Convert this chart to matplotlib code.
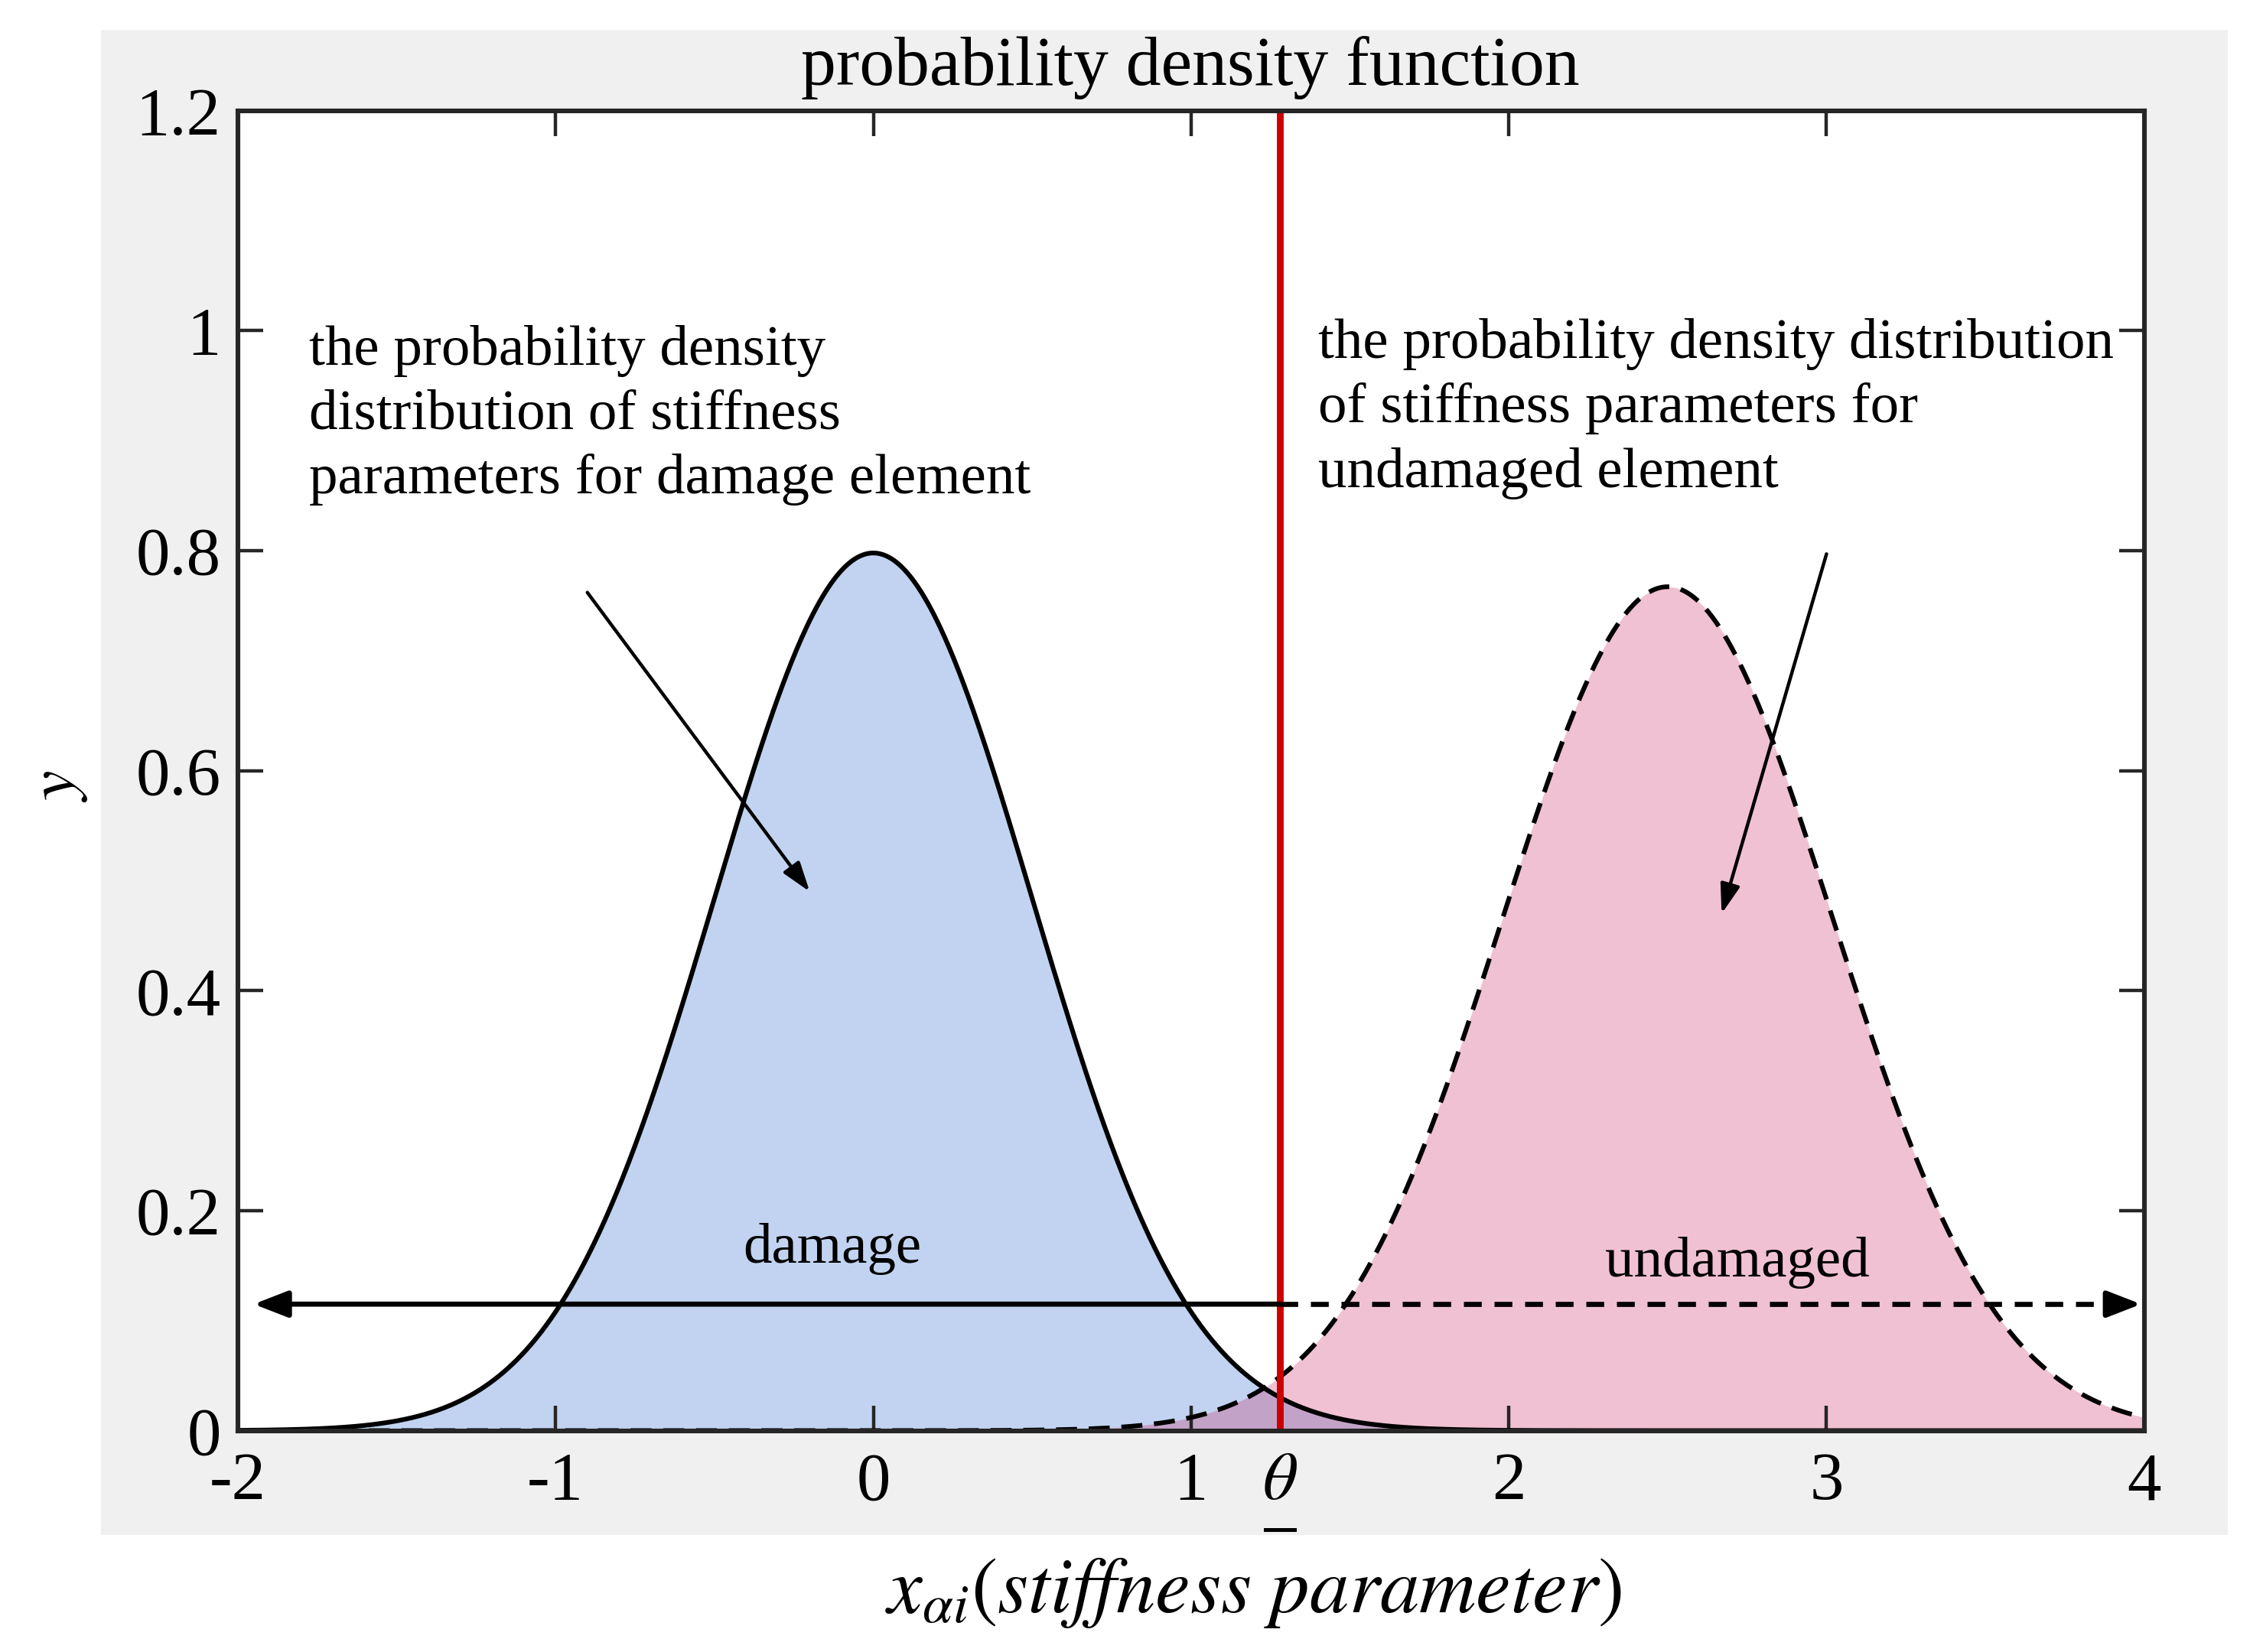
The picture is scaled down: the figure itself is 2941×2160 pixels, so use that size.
import matplotlib
matplotlib.use("Agg")
import matplotlib.pyplot as plt
import matplotlib.transforms as mtransforms
from matplotlib.patches import Rectangle
import numpy as np

# parameters
damage_mean, damage_sigma = 0.0, 0.5        # peak ~0.80 at x=0
undamaged_mean, undamaged_sigma = 2.5, 0.52  # peak ~0.77 at x=2.5
theta = 1.28                                 # threshold (red line)
arrow_y = 0.115                              # height of the horizontal arrows

x_ticks = [-2, -1, 0, 1, theta, 2, 3, 4]
x_tick_labels = ["-2", "-1", "0", "1", r"$\theta$", "2", "3", "4"]
y_ticks = [0, 0.2, 0.4, 0.6, 0.8, 1.0, 1.2]
y_tick_labels = ["0", "0.2", "0.4", "0.6", "0.8", "1", "1.2"]

left_note = ("the probability density\n"
             "distribution of stiffness\n"
             "parameters for damage element")
right_note = ("the probability density distribution\n"
              "of stiffness parameters for\n"
              "undamaged element")

plt.rcParams["font.family"] = ["Liberation Serif", "DejaVu Serif"]
plt.rcParams["mathtext.fontset"] = "stix"


def normal_pdf(x, mu, sigma):
    return np.exp(-0.5 * ((x - mu) / sigma) ** 2) / (sigma * np.sqrt(2 * np.pi))


x = np.linspace(-2, 4, 1201)
y_dmg = normal_pdf(x, damage_mean, damage_sigma)
y_und = normal_pdf(x, undamaged_mean, undamaged_sigma)

fig = plt.figure(figsize=(14.705, 10.8), dpi=200, facecolor="white")
fig.patches.append(Rectangle((0.045, 0.071), 0.945, 0.911, transform=fig.transFigure,
                             facecolor="#f0f0f0", edgecolor="none", zorder=-10))
ax = fig.add_axes([0.1057, 0.134, 0.8473, 0.799])
ax.set_facecolor("white")

# filled areas
ax.fill_between(x, 0, y_dmg, color="#c1d3f0", lw=0, zorder=1)
ax.fill_between(x, 0, y_und, color="#f0c1d2", lw=0, zorder=1)
ax.fill_between(x, 0, np.minimum(y_dmg, y_und), color="#c3a2c8", lw=0, zorder=1.5)

# curves
ax.plot(x, y_dmg, color="black", lw=2.2, zorder=3)
ax.plot(x, y_und, color="black", lw=2.2, ls=(0, (4.5, 2.5)), zorder=3)

# threshold line
ax.axvline(theta, color="#cc0000", lw=3.2, zorder=4)

# horizontal arrows
head = "-|>,head_length=0.9,head_width=0.35"
ax.annotate("", xy=(-1.95, arrow_y), xytext=(theta, arrow_y),
            arrowprops=dict(arrowstyle=head, color="black", lw=2.4,
                            mutation_scale=15, shrinkA=0, shrinkB=0), zorder=5)
ax.plot([theta, 3.95], [arrow_y, arrow_y], color="black", lw=2.4,
        ls=(0, (3.5, 2.5)), zorder=5)
ax.annotate("", xy=(3.99, arrow_y), xytext=(3.94, arrow_y),
            arrowprops=dict(arrowstyle=head, color="black", lw=2.4,
                            mutation_scale=15, shrinkA=0, shrinkB=0), zorder=5)
ax.text(-0.13, 0.165, "damage", ha="center", va="center", fontsize=27, zorder=6)
ax.text(2.72, 0.153, "undamaged", ha="center", va="center", fontsize=27, zorder=6)

# annotations with diagonal arrows
ax.text(-1.775, 0.923, left_note, ha="left", va="center", fontsize=27,
        linespacing=1.32, zorder=6)
ax.text(1.40, 0.929, right_note, ha="left", va="center", fontsize=27,
        linespacing=1.32, zorder=6)
thin_head = "-|>,head_length=0.9,head_width=0.3"
ax.annotate("", xy=(-0.2, 0.49), xytext=(-0.9, 0.762),
            arrowprops=dict(arrowstyle=thin_head, color="black", lw=1.6,
                            mutation_scale=13, shrinkA=0, shrinkB=0), zorder=6)
ax.annotate("", xy=(2.67, 0.47), xytext=(3.0, 0.797),
            arrowprops=dict(arrowstyle=thin_head, color="black", lw=1.6,
                            mutation_scale=13, shrinkA=0, shrinkB=0), zorder=6)

# axes styling
ax.set_xlim(-2, 4)
ax.set_ylim(0, 1.2)
ax.set_xticks(x_ticks)
ax.set_xticklabels(x_tick_labels)
ax.set_yticks(y_ticks)
ax.set_yticklabels(y_tick_labels)
ax.tick_params(direction="in", length=12, width=1.6, labelsize=32, colors="#262626",
               top=True, right=True)
ax.tick_params(axis="x", pad=10)
ax.tick_params(axis="y", pad=8)
for lab in ax.get_xticklabels() + ax.get_yticklabels():
    lab.set_color("black")
for sp in ax.spines.values():
    sp.set_linewidth(2.2)
    sp.set_color("#262626")
    sp.set_zorder(7)

# underline below theta tick label
trans = mtransforms.blended_transform_factory(ax.transData, ax.transAxes)
ax.plot([theta - 0.045, theta + 0.045], [-0.075, -0.075], color="black", lw=1.8,
        transform=trans, clip_on=False)

fig.text(0.529, 0.959, "probability density function", ha="center", va="center",
         fontsize=33)
fig.text(0.026, 0.524, "$y$", rotation=90, ha="center", va="center", fontsize=32)
fig.text(0.557, 0.036, r"$x_{\alpha i}(stiffness\ parameter)$", ha="center",
         va="center", fontsize=37)

fig.savefig("out.png", dpi=200, facecolor=fig.get_facecolor())
